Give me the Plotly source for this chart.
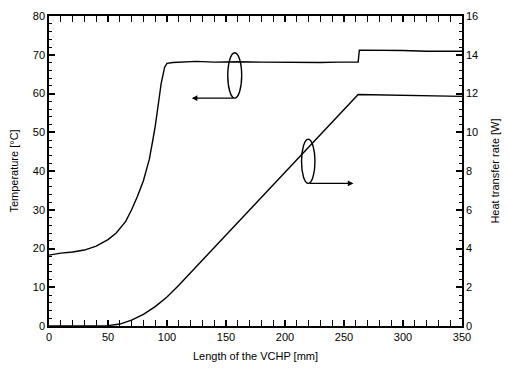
import plotly.graph_objects as go

# Temperature curve (left axis)
temp_x = [0, 10, 20, 30, 40, 50, 57, 65, 70, 75, 80, 85, 88, 90, 93, 95, 98, 100, 105, 115, 125, 140, 160, 180, 200, 215, 230, 245, 262, 263, 280, 300, 320, 350]
temp_y = [18.3, 18.8, 19.1, 19.6, 20.6, 22.3, 24.0, 27.0, 30.0, 33.5, 37.5, 43.0, 48.0, 51.5, 58.0, 62.5, 66.8, 67.8, 68.0, 68.1, 68.3, 68.1, 68.2, 68.1, 68.0, 67.9, 68.0, 68.1, 68.1, 71.2, 71.2, 71.1, 70.9, 70.9]

# Heat transfer rate curve (right axis)
heat_x = [0, 20, 40, 50, 60, 70, 80, 90, 100, 110, 262, 300, 350]
heat_y = [0, 0, 0, 0.02, 0.1, 0.3, 0.6, 1.0, 1.5, 2.1, 11.95, 11.92, 11.85]

x_ticks = [0, 50, 100, 150, 200, 250, 300, 350]
left_ticks = [0, 10, 20, 30, 40, 50, 60, 70, 80]
right_ticks = [0, 2, 4, 6, 8, 10, 12, 14, 16]

fig = go.Figure()
fig.add_trace(go.Scatter(x=temp_x, y=temp_y, mode="lines",
                         line=dict(color="black", width=1.4), showlegend=False))
fig.add_trace(go.Scatter(x=heat_x, y=heat_y, mode="lines", yaxis="y2",
                         line=dict(color="black", width=1.4), showlegend=False))

# Ellipses marking the curves
fig.add_shape(type="circle", xref="x", yref="y", x0=151.5, x1=163.3, y0=58.8, y1=70.5,
              line=dict(color="black", width=1.4))
fig.add_shape(type="circle", xref="x", yref="y2", x0=214, x1=225.4, y0=7.36, y1=9.64,
              line=dict(color="black", width=1.4))

# Arrows
fig.add_annotation(x=121, y=58.8, ax=157.4, ay=58.8, xref="x", yref="y", axref="x", ayref="y",
                   showarrow=True, arrowhead=2, arrowsize=0.8, arrowwidth=1.4, arrowcolor="black", text="")
fig.add_annotation(x=258, y=7.36, ax=219.7, ay=7.36, xref="x", yref="y2", axref="x", ayref="y2",
                   showarrow=True, arrowhead=2, arrowsize=0.8, arrowwidth=1.4, arrowcolor="black", text="")

font = dict(family="Liberation Sans, Arial, sans-serif", color="black")
minor_style = dict(ticks="inside", ticklen=3, tickwidth=1.3, tickcolor="black")
major_style = dict(ticks="inside", ticklen=6, tickwidth=1.5, tickcolor="black")

fig.update_layout(
    width=509, height=368,
    margin=dict(l=49, r=47, t=16, b=42, autoexpand=False),
    plot_bgcolor="white", paper_bgcolor="white",
    font=dict(family="Liberation Sans, Arial, sans-serif", size=10, color="black"),
    xaxis=dict(range=[0, 350], tickmode="linear", tick0=x_ticks[0], dtick=x_ticks[1] - x_ticks[0],
               automargin=False,
               showgrid=False, zeroline=False, showline=True, linecolor="black", linewidth=1.5,
               mirror="allticks", **major_style,
               minor=dict(dtick=10, **minor_style),
               tickfont=dict(size=11, **font),
               title=dict(text="Length of the VCHP [mm]", font=dict(size=11, **font), standoff=10)),
    yaxis=dict(range=[0, 80], tickmode="linear", tick0=left_ticks[0], dtick=left_ticks[1] - left_ticks[0],
               automargin=False,
               showgrid=False, zeroline=False, showline=True, linecolor="black", linewidth=1.5,
               mirror="allticks", **major_style,
               minor=dict(dtick=2, **minor_style),
               tickfont=dict(size=11, **font),
               title=dict(text="Temperature [°C]", font=dict(size=11, **font), standoff=12)),
    yaxis2=dict(range=[0, 16], tickmode="linear", tick0=right_ticks[0], dtick=right_ticks[1] - right_ticks[0],
                automargin=False,
                overlaying="y", side="right",
                showgrid=False, zeroline=False, showline=True, linecolor="black", linewidth=1.5,
                **major_style,
                minor=dict(dtick=0.4, **minor_style),
                tickfont=dict(size=11, **font),
                title=dict(text="Heat transfer rate [W]", font=dict(size=11, **font), standoff=14)),
)

fig.write_html("out.html")
